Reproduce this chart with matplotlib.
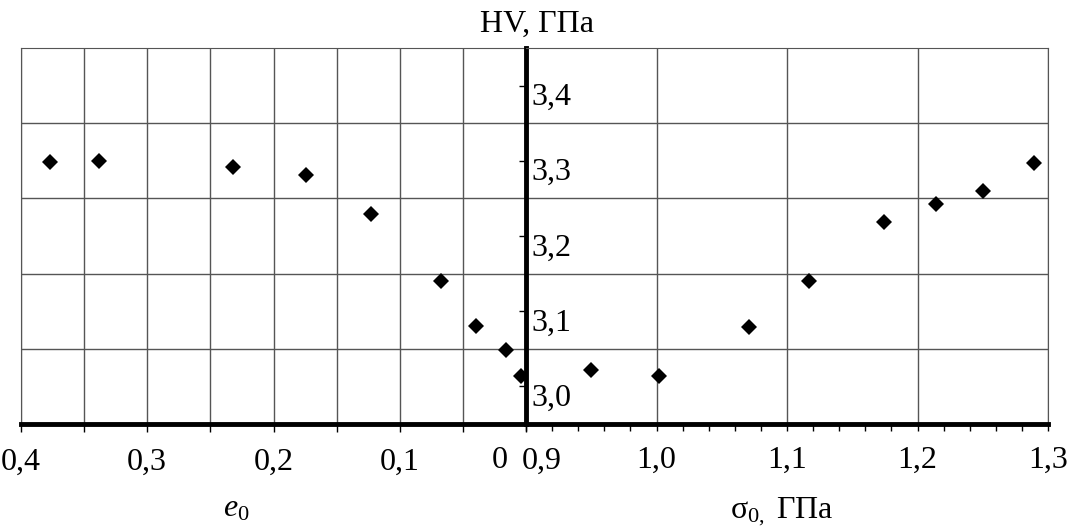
import matplotlib

matplotlib.use("Agg")
import matplotlib.pyplot as plt
import matplotlib.transforms as mtransforms
import numpy as np

plt.rcParams["font.family"] = ["Liberation Serif", "DejaVu Serif"]
plt.rcParams["mathtext.fontset"] = "custom"
plt.rcParams["mathtext.rm"] = "Liberation Serif"
plt.rcParams["mathtext.it"] = "Liberation Serif:italic"

# left half: HV vs strain e0 (axis runs 0.4 -> 0)
e0 = [0.377, 0.338, 0.232, 0.174, 0.123, 0.067, 0.040, 0.016, 0.004]
hv_e0 = [3.298, 3.300, 3.292, 3.281, 3.229, 3.140, 3.080, 3.049, 3.014]

# right half: HV vs stress sigma0, GPa
sigma0 = [0.950, 1.002, 1.071, 1.117, 1.174, 1.214, 1.250, 1.289]
hv_sigma0 = [3.022, 3.014, 3.079, 3.140, 3.219, 3.242, 3.260, 3.297]

hv_ticks = [3.0, 3.1, 3.2, 3.3, 3.4]
hv_labels = ["3,0", "3,1", "3,2", "3,3", "3,4"]
hv_grid = [3.05, 3.15, 3.25, 3.35]

e0_ticks = [0.4, 0.3, 0.2, 0.1]
e0_labels = ["0,4", "0,3", "0,2", "0,1"]
sig_ticks = [1.0, 1.1, 1.2, 1.3]
sig_labels = ["1,0", "1,1", "1,2", "1,3"]

W, H = 1075, 526
fig = plt.figure(figsize=(W / 100, H / 100), dpi=100)
bot = (H - 424) / H
hgt = 376 / H
axl = fig.add_axes([21 / W, bot, 505 / W, hgt])
axr = fig.add_axes([526 / W, bot, 522 / W, hgt])

grid_col = "#555555"
fs = 23
ms = 8

for ax in (axl, axr):
    ax.set_ylim(2.95, 3.45)
    ax.set_yticks(hv_grid, minor=True)
    ax.grid(axis="y", which="minor", color=grid_col, lw=1)
    ax.spines["top"].set_color(grid_col)
    ax.spines["bottom"].set_linewidth(3.5)
    ax.spines["bottom"].set_color("black")
    ax.set_axisbelow(True)
    ax.tick_params(axis="x", which="both", direction="out", color="black",
                   labelsize=fs, pad=11)

# left axes
e0_grid = np.arange(0, 0.41, 0.05)
axl.set_xlim(0.4, 0.0)
axl.set_xticks(e0_grid)
axl.set_xticklabels([e0_labels[e0_ticks.index(round(t, 2))] if round(t, 2) in e0_ticks else ""
                     for t in e0_grid])
axl.tick_params(axis="x", length=6, width=1)
axl.grid(axis="x", which="major", color=grid_col, lw=1)
axl.tick_params(axis="y", which="both", left=False, labelleft=False)
axl.spines["left"].set_color(grid_col)
axl.spines["right"].set_visible(False)
axl.plot(e0, hv_e0, ls="none", marker="D", ms=ms, mew=0, color="black", clip_on=False)

# right axes
axr.set_xlim(0.9, 1.3)
axr.set_xticks([0.9] + sig_ticks)
axr.set_xticklabels([""] + sig_labels)
axr.set_xticks(np.arange(0.92, 1.3, 0.02), minor=True)
axr.tick_params(axis="x", which="both", length=5, width=1)
axr.xaxis.grid(True, which="major", color=grid_col, lw=1)
axr.spines["right"].set_color(grid_col)
axr.spines["left"].set_linewidth(3.5)
axr.spines["left"].set_color("black")
axr.set_yticks(hv_ticks)
axr.tick_params(axis="y", which="major", direction="out", length=5, width=1,
                labelleft=False)
axr.tick_params(axis="y", which="minor", left=False)
axr.plot(sigma0, hv_sigma0, ls="none", marker="D", ms=ms, mew=0, color="black", clip_on=False)

# HV values sit to the right of the central axis, just below each tick
ytrans = mtransforms.offset_copy(axr.get_yaxis_transform(), fig=fig, x=5, y=-12, units="dots")
for v, lab in zip(hv_ticks, hv_labels):
    axr.text(0.0, v, lab, transform=ytrans, ha="left", va="center", fontsize=fs)

# "0" and "0,9" sit on either side of the central axis
xtrans_l = mtransforms.offset_copy(axl.get_xaxis_transform(), fig=fig, x=-26, y=-37, units="dots")
axl.text(0.0, 0.0, "0", transform=xtrans_l, ha="center", va="center", fontsize=fs)
xtrans_r = mtransforms.offset_copy(axr.get_xaxis_transform(), fig=fig, x=16, y=-37, units="dots")
axr.text(0.9, 0.0, "0,9", transform=xtrans_r, ha="center", va="center", fontsize=fs)

fig.text(537 / W, 1 - 24 / H, "HV, ГПа", ha="center", va="center", fontsize=fs)
fig.text(236 / W, 1 - 509 / H, r"$\mathit{e_0}$", ha="center", va="center", fontsize=fs)
fig.text(782 / W, 1 - 512 / H, r"σ$_{0,}$ ГПа", ha="center", va="center", fontsize=fs)

fig.savefig("out.png", dpi=100)
